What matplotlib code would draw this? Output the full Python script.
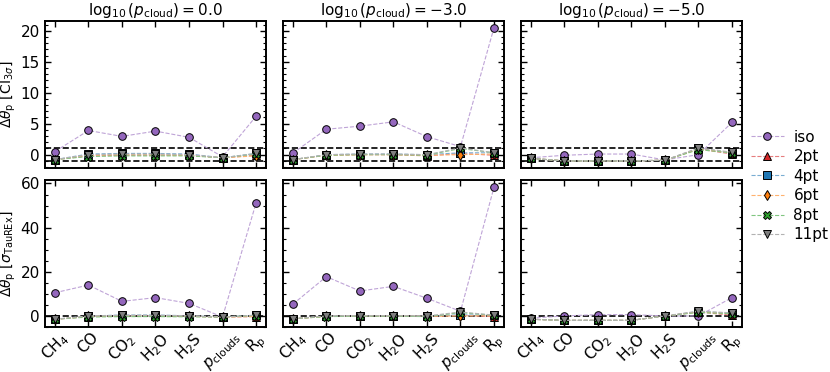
import numpy as np
import matplotlib
matplotlib.use("Agg")
import matplotlib.pyplot as plt
from matplotlib.ticker import AutoMinorLocator
from matplotlib.colors import to_rgb

params = [r"CH$_4$", r"CO", r"CO$_2$", r"H$_2$O", r"H$_2$S", r"$p_{\rm clouds}$", r"R$_{\rm p}$"]
titles = [r"$\log_{10}(p_{\rm cloud}) = 0.0$", r"$\log_{10}(p_{\rm cloud}) = -3.0$", r"$\log_{10}(p_{\rm cloud}) = -5.0$"]
labels = ["iso", "2pt", "4pt", "6pt", "8pt", "11pt"]

# Top row: Delta theta in CI_3sigma units; each panel: rows = models
ci_p0 = {
    "iso":  [0.5, 3.9, 2.95, 3.8, 2.8, -0.35, 6.2],
    "2pt":  [-0.8, -0.2, -0.1, -0.1, -0.1, -0.5, -0.1],
    "4pt":  [-0.8, 0.1, 0.2, 0.2, 0.1, -0.5, 0.2],
    "6pt":  [-0.8, -0.1, 0.0, 0.0, -0.1, -0.5, -0.2],
    "8pt":  [-0.8, -0.3, -0.2, -0.2, -0.2, -0.5, 0.1],
    "11pt": [-0.8, 0.0, 0.1, 0.1, 0.0, -0.5, 0.2],
}
ci_p3 = {
    "iso":  [0.25, 4.1, 4.6, 5.3, 2.9, 1.3, 20.5],
    "2pt":  [-0.8, -0.1, 0.0, 0.0, -0.2, 0.2, -0.1],
    "4pt":  [-0.8, 0.0, 0.1, 0.1, 0.0, 0.3, 0.3],
    "6pt":  [-0.8, -0.1, 0.0, 0.0, -0.1, 0.0, 0.1],
    "8pt":  [-0.8, -0.1, 0.0, 0.0, -0.1, 1.0, 0.3],
    "11pt": [-0.8, 0.0, 0.1, 0.1, 0.0, 1.1, 0.3],
}
ci_p5 = {
    "iso":  [-0.5, -0.1, 0.1, 0.1, -0.85, 0.0, 5.2],
    "2pt":  [-0.6, -1.0, -1.0, -1.0, -0.9, 0.9, 0.1],
    "4pt":  [-0.6, -1.0, -1.0, -1.0, -0.9, 1.0, 0.3],
    "6pt":  [-0.6, -1.0, -1.0, -1.0, -0.9, 0.9, 0.3],
    "8pt":  [-0.6, -1.0, -1.0, -1.0, -0.9, 0.8, 0.3],
    "11pt": [-0.6, -1.0, -1.0, -1.0, -0.9, 1.1, 0.4],
}
# Bottom row: Delta theta in sigma_TauREx units
sig_p0 = {
    "iso":  [10.5, 14.0, 6.6, 8.3, 5.7, -0.5, 51.2],
    "2pt":  [-1.5, -0.3, 0.0, 0.0, -0.2, -0.5, -0.3],
    "4pt":  [-1.5, 0.0, 0.4, 0.4, 0.1, -0.5, 0.3],
    "6pt":  [-1.5, -0.2, 0.1, 0.1, -0.1, -0.5, -0.2],
    "8pt":  [-1.5, -0.5, -0.3, -0.3, -0.4, -0.5, 0.2],
    "11pt": [-1.5, 0.0, 0.3, 0.3, 0.1, -0.5, 0.4],
}
sig_p3 = {
    "iso":  [5.3, 17.8, 11.3, 13.4, 8.0, 2.1, 58.3],
    "2pt":  [-1.3, -0.2, 0.0, 0.0, -0.2, 0.3, -0.3],
    "4pt":  [-1.3, 0.0, 0.1, 0.1, 0.0, 0.5, 0.4],
    "6pt":  [-1.3, -0.2, 0.0, 0.0, -0.1, 0.0, 0.1],
    "8pt":  [-1.3, -0.3, -0.1, -0.1, -0.3, 1.5, 0.3],
    "11pt": [-1.3, 0.0, 0.1, 0.1, 0.0, 1.8, 0.4],
}
sig_p5 = {
    "iso":  [-1.0, 0.0, 0.6, 0.6, 0.0, 0.0, 8.3],
    "2pt":  [-1.5, -2.0, -2.0, -2.0, 0.0, 1.8, 0.3],
    "4pt":  [-1.5, -2.0, -2.0, -2.0, 0.0, 2.0, 1.2],
    "6pt":  [-1.5, -2.0, -2.0, -2.0, 0.0, 1.8, 1.0],
    "8pt":  [-1.5, -2.0, -2.0, -2.0, 0.0, 1.6, 1.0],
    "11pt": [-1.5, -2.0, -2.0, -2.0, 0.0, 2.2, 1.4],
}

colors = {"iso": "#9467bd", "2pt": "#d62728", "4pt": "#1f77b4",
          "6pt": "#ff7f0e", "8pt": "#2ca02c", "11pt": "#7f7f7f"}
markers = {"iso": "o", "2pt": "^", "4pt": "s", "6pt": "d", "8pt": "X", "11pt": "v"}

def light(c, f=0.4):
    r, g, b = to_rgb(c)
    return (r + (1 - r) * f, g + (1 - g) * f, b + (1 - b) * f)

plt.rcParams["font.family"] = "DejaVu Sans"
fig, axes = plt.subplots(2, 3, figsize=(8.3, 3.72), dpi=100, sharex=True, sharey="row")
fig.subplots_adjust(left=0.054, right=0.894, top=0.944, bottom=0.121, wspace=0.075, hspace=0.085)

data = [[ci_p0, ci_p3, ci_p5], [sig_p0, sig_p3, sig_p5]]
x = np.arange(len(params))
handles = []
for r in range(2):
    for c in range(3):
        ax = axes[r, c]
        d = data[r][c]
        if r == 0:
            ax.axhline(1, color="k", ls="--", lw=1.2, zorder=1)
            ax.axhline(-1, color="k", ls="--", lw=1.2, zorder=1)
        else:
            ax.axhline(0, color="k", ls="--", lw=1.2, zorder=1)
        for lab in labels:
            h, = ax.plot(x, d[lab], ls="--", lw=0.8, color=light(colors[lab]),
                         marker=markers[lab], ms=5.5, mfc=colors[lab], mec="k",
                         mew=0.7, label=lab, zorder=3)
            if r == 0 and c == 0:
                handles.append(h)
        ax.tick_params(direction="in", top=True, right=True, which="both", labelsize=11)
        ax.tick_params(which="major", length=4, width=1)
        ax.tick_params(which="minor", length=2, width=0.8)
        ax.yaxis.set_minor_locator(AutoMinorLocator())
        for s in ax.spines.values():
            s.set_linewidth(1.4)
        if r == 0:
            ax.set_title(titles[c], fontsize=11, pad=4)

axes[0, 0].set_ylim(-2.1, 21.6)
axes[0, 0].set_yticks([0, 5, 10, 15, 20])
axes[1, 0].set_ylim(-5, 61.5)
axes[1, 0].set_yticks([0, 20, 40, 60])
axes[1, 0].set_xlim(-0.3, 6.3)
for c in range(3):
    axes[1, c].set_xticks(x)
    axes[1, c].set_xticklabels(params, rotation=45, ha="center", fontsize=11)
    axes[1, c].tick_params(axis="x", pad=2)

axes[0, 0].set_ylabel(r"$\Delta\theta_{\rm p}$ [CI$_{3\sigma}$]", fontsize=10, labelpad=2)
axes[1, 0].set_ylabel(r"$\Delta\theta_{\rm p}$ [$\sigma_{\rm TauREx}$]", fontsize=10, labelpad=2)

fig.legend(handles=handles, labels=labels, loc="center left", bbox_to_anchor=(0.897, 0.5),
           frameon=False, fontsize=11, handlelength=2.2, handletextpad=0.6,
           labelspacing=0.3, borderaxespad=0.0)

fig.savefig("out.png", dpi=100)
